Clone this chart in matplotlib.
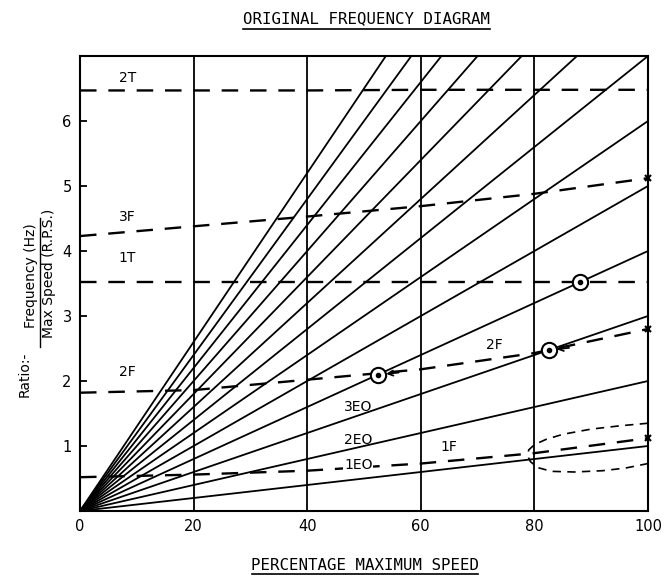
import numpy as np
import matplotlib.pyplot as plt
from matplotlib.lines import Line2D

# engine order lines (nEO), ratio = n * pct / 100
eo_orders = [1, 2, 3, 4, 5, 6, 7, 8, 9, 10, 11, 12, 13]

# blade mode frequencies
pct = [0, 20, 40, 60, 80, 100]
f_2t = [6.47, 6.47, 6.47, 6.48, 6.48, 6.48]
f_3f = [4.23, 4.38, 4.53, 4.69, 4.88, 5.12]
f_1t = [3.53, 3.53, 3.53, 3.53, 3.53, 3.53]
f_2f = [1.82, 1.86, 2.02, 2.18, 2.43, 2.80]
f_1f = [0.52, 0.56, 0.62, 0.73, 0.89, 1.12]

# scatter band round 1F at high speed
band_x = [100, 95, 90, 85, 82, 80, 79, 78.8, 79.3, 80.5, 83, 87, 92, 96, 100]
band_y = [1.35, 1.31, 1.26, 1.18, 1.10, 1.02, 0.94, 0.85, 0.76, 0.67, 0.61, 0.60, 0.62, 0.66, 0.73]

# resonance crossings
cross_x = [52.5, 82.5, 88.0]
cross_y = [2.10, 2.48, 3.53]

mode_labels = ['2T', '3F', '1T', '2F']
mode_label_y = [6.66, 4.52, 3.89, 2.14]

fig = plt.figure(figsize=(6.68, 5.75), dpi=100)
ax = fig.add_axes([80 / 668, 1 - 511 / 575, 568 / 668, 455 / 575])

for n in eo_orders:
    ax.plot([0, 100], [0, n], color='black', lw=1.3, solid_capstyle='butt')

for gx in [20, 40, 60, 80]:
    ax.axvline(gx, color='black', lw=1.3)

dash = (7.0, 5.0)
for yy in [f_2t, f_3f, f_1t, f_2f, f_1f]:
    ax.plot(pct, yy, color='black', lw=1.7, dashes=dash)

ax.plot(band_x, band_y, color='black', lw=1.2, dashes=(5.0, 3.8))

# end markers on the right edge
ax.plot([100, 100, 100], [f_3f[-1], f_2f[-1], f_1f[-1]], ls='none', marker='x',
        ms=5, mew=1.5, color='black', clip_on=False, zorder=5)

ax.plot(cross_x, cross_y, ls='none', marker='o', ms=11, mfc='white', mec='black',
        mew=1.5, zorder=6)
ax.plot(cross_x, cross_y, ls='none', marker='o', ms=3, color='black', zorder=7)

for cx, cy in zip(cross_x[:2], cross_y[:2]):
    ax.annotate('', xy=(cx + 1.4, cy + 0.01), xytext=(cx + 3.6, cy + 0.03),
                arrowprops=dict(arrowstyle='->', lw=1.3, color='black',
                                shrinkA=0, shrinkB=0, mutation_scale=9))

for lab, ly in zip(mode_labels, mode_label_y):
    ax.text(8.3, ly, lab, ha='center', va='center', fontsize=10)
ax.text(73, 2.56, '2F', ha='center', va='center', fontsize=10)
ax.text(65, 0.98, '1F', ha='center', va='center', fontsize=10)
ax.text(49, 1.6, '3EO', ha='center', va='center', fontsize=10)
ax.text(49, 1.09, '2EO', ha='center', va='center', fontsize=10)
ax.text(49, 0.71, '1EO', ha='center', va='center', fontsize=10,
        bbox=dict(facecolor='white', edgecolor='none', pad=0.5))

ax.set_xlim(0, 100)
ax.set_ylim(0, 7)
ax.set_xticks([0, 20, 40, 60, 80, 100])
ax.set_yticks([1, 2, 3, 4, 5, 6])
ax.tick_params(axis='x', length=0, pad=6, labelsize=10.5)
ax.tick_params(axis='y', direction='in', length=5, width=1.3, pad=6, labelsize=10.5)
for sp in ax.spines.values():
    sp.set_linewidth(1.5)

# y label built as a fraction
fig.text(25 / 668, 1 - 374 / 575, 'Ratio:-', rotation=90, ha='center', va='center',
         fontsize=10)
fig.text(31 / 668, 1 - 276 / 575, 'Frequency (Hz)', rotation=90, ha='center',
         va='center', fontsize=10)
fig.text(49 / 668, 1 - 273 / 575, 'Max Speed (R.P.S.)', rotation=90, ha='center',
         va='center', fontsize=10)
fig.add_artist(Line2D([39.5 / 668, 39.5 / 668], [1 - 347 / 575, 1 - 218 / 575],
                      color='black', lw=1.0, transform=fig.transFigure))

fig.text(366 / 668, 1 - 19 / 575, 'ORIGINAL FREQUENCY DIAGRAM', ha='center',
         va='center', family='DejaVu Sans Mono', fontsize=11.3)
fig.add_artist(Line2D([243 / 668, 490 / 668], [1 - 29 / 575, 1 - 29 / 575],
                      color='black', lw=1.2, transform=fig.transFigure))

fig.text(365 / 668, 1 - 565 / 575, 'PERCENTAGE MAXIMUM SPEED', ha='center',
         va='center', family='DejaVu Sans Mono', fontsize=11.3)
fig.add_artist(Line2D([252 / 668, 478 / 668], [1 - 573.5 / 575, 1 - 573.5 / 575],
                      color='black', lw=1.2, transform=fig.transFigure))

fig.savefig('out.png', dpi=100)
